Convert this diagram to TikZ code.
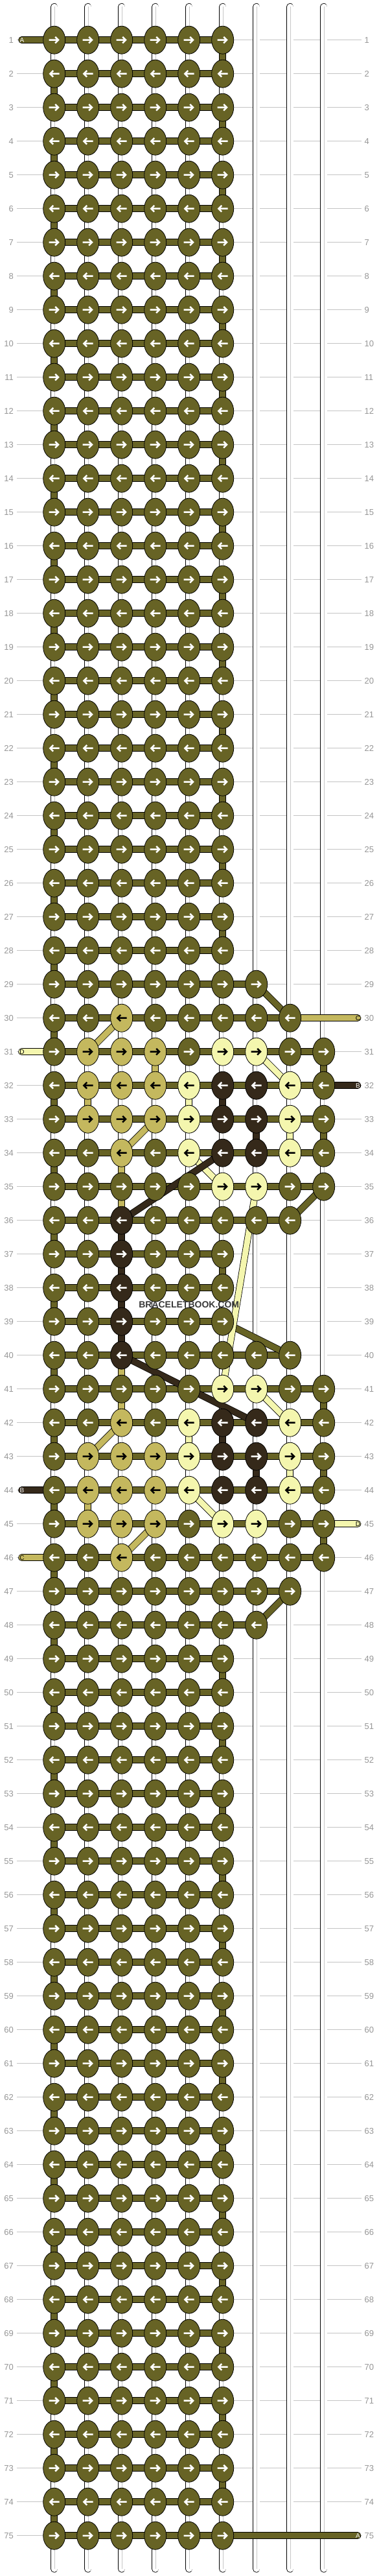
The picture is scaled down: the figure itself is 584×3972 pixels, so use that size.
\documentclass[tikz,border=0pt]{standalone}
\usepackage{fontspec}
\setmainfont{Liberation Sans}
\usetikzlibrary{shapes.geometric}

\definecolor{knotA}{RGB}{103,99,37}
\definecolor{knotB}{RGB}{53,41,26}
\definecolor{knotC}{RGB}{196,184,94}
\definecolor{knotD}{RGB}{244,246,174}
\definecolor{guidegrey}{RGB}{196,196,196}
\definecolor{rownogrey}{RGB}{150,150,150}
\definecolor{lightA}{RGB}{240,238,200}

\pgfdeclarelayer{guides}
\pgfdeclarelayer{base}
\pgfdeclarelayer{bands}
\pgfdeclarelayer{diags}
\pgfsetlayers{guides,base,bands,diags,main}

% colore della freccia per ogni filo
\def\arrA{white}\def\arrB{white}\def\arrC{black}\def\arrD{black}

% numero di nodi in una riga (6 se non indicato)
\newcommand\knotsin[2]{\ifcsname nk#1\endcsname\edef#2{\csname nk#1\endcsname}\else\def#2{6}\fi}
% colore di un nodo (A se non indicato)
\newcommand\knotcolour[3]{\ifcsname kc#1-#2\endcsname\edef#3{\csname kc#1-#2\endcsname}\else\def#3{A}\fi}
% freccia dentro un nodo: #2 = 1 destra, -1 sinistra
\newcommand\knotarrow[3]{%
  \draw[arrowline,draw=#3] ([xshift=-8pt*#2]#1.center) -- ([xshift=5pt*#2]#1.center)
    ([xshift=1.5pt*#2,yshift=4.8pt]#1.center) -- ([xshift=6.3pt*#2]#1.center)
    -- ([xshift=1.5pt*#2,yshift=-4.8pt]#1.center);}

\tikzset{
  knot/.style={ellipse,draw=black,line width=0.8pt,minimum width=34pt,minimum height=43pt,inner sep=0pt},
  kA/.style={knot,fill=knotA},
  kB/.style={knot,fill=knotB},
  kC/.style={knot,fill=knotC},
  kD/.style={knot,fill=knotD},
  knot in/.code={\edef\knotstyle{k#1}\expandafter\pgfkeysalso\expandafter{\knotstyle}},
  band/.style={line width=0.8pt,draw=black,double=#1,double distance=9pt},
  stub/.style={band=#1,line cap=round},
  basethread/.style={line width=0.8pt,draw=black,double=white,double distance=9.6pt,line cap=round},
  threadcore/.style={draw=black!22,line width=0.8pt},
  guideline/.style={draw=guidegrey,line width=1pt},
  rowno/.style={text=rownogrey,font=\fontsize{13}{13}\selectfont,inner sep=0pt,text height=9.3pt,text depth=0pt},
  stubletter/.style={font=\fontsize{10}{10}\selectfont,inner sep=0pt},
  arrowline/.style={line width=2.5pt,line join=miter},
}

\begin{document}
\begin{tikzpicture}[x=1pt,y=-1pt]
    \useasboundingbox (0,0) rectangle (584,3972);

    % Righe con piu di 6 nodi
    \foreach \row/\nn in {29/7,30/8,31/9,32/9,33/9,34/9,35/9,36/8,40/8,41/9,42/9,43/9,44/9,45/9,46/9,47/8,48/7}
        {\expandafter\xdef\csname nk\row\endcsname{\nn}}

    % Colori del disegno (simmetrico attorno alla riga 38)
    \foreach \row/\col/\cl in {30/3/C, 31/2/C,31/3/C,31/4/C,31/6/D,31/7/D,
        32/2/C,32/3/C,32/4/C,32/5/D,32/6/B,32/7/B,32/8/D,
        33/2/C,33/3/C,33/4/C,33/5/D,33/6/B,33/7/B,33/8/D,
        34/3/C,34/5/D,34/6/B,34/7/B,34/8/D, 35/6/D,35/7/D, 36/3/B,37/3/B,38/3/B}{
        \pgfmathtruncatemacro\rr{76-\row}
        \expandafter\xdef\csname kc\row-\col\endcsname{\cl}
        \expandafter\xdef\csname kc\rr-\col\endcsname{\cl}}

    % Fili di base
    \foreach \col in {1,...,9}{
        \coordinate (top-\col) at (31.7+52*\col,10.5);
        \coordinate (bot-\col) at (31.7+52*\col,3961);
        \begin{pgfonlayer}{base}
            \draw[basethread] (top-\col) -- (bot-\col);
            \draw[threadcore] ([xshift=1pt]top-\col) -- ([xshift=1pt]bot-\col);
        \end{pgfonlayer}}

    % Nodi, numeri di riga e fili orizzontali
    \foreach \row in {1,...,75}{
        \knotsin{\row}\nn
        \foreach \col in {1,...,\nn}{
            \knotcolour{\row}{\col}\cl
            \node[knot in=\cl] (k-\row-\col) at (31.7+52*\col,9.7+52*\row) {};
            \edef\ac{\csname arr\cl\endcsname}
            \ifodd\row\relax \knotarrow{k-\row-\col}{1}{\ac}\else \knotarrow{k-\row-\col}{-1}{\ac}\fi}
        \node[rowno,anchor=east] (ln-\row) at (21,9.7+52*\row) {\row};
        \node[rowno,anchor=west] (rn-\row) at (562.4,9.7+52*\row) {\row};
        \begin{pgfonlayer}{guides}
            \draw[guideline] ([xshift=5pt]ln-\row.east) -- ([xshift=-4.9pt]rn-\row.west);
        \end{pgfonlayer}
        \begin{pgfonlayer}{bands}
            \draw[band=knotA] (k-\row-1.center) -- (k-\row-\nn.center);
        \end{pgfonlayer}}

    % Cambi di riga
    \begin{pgfonlayer}{bands}
    \foreach \row in {1,...,74}{
        \pgfmathtruncatemacro\nxt{\row+1}
        \knotsin{\row}\na \knotsin{\nxt}\nb
        \ifodd\row\relax
            \draw[band=knotA] (k-\row-\na.center) -- (k-\nxt-\nb.center);
        \else
            \draw[band=knotA] (k-\row-1.center) -- (k-\nxt-1.center);
        \fi}
    \end{pgfonlayer}

    % Fili colorati portati
    \begin{pgfonlayer}{diags}
    \foreach \ra/\ca/\rb/\cb/\cl in {31/4/32/4/C, 32/2/33/2/C, 32/5/33/5/D, 32/6/33/6/B,
        33/7/34/7/B, 33/8/34/8/D, 34/3/35/3/C, 35/3/36/3/C, 36/3/37/3/B, 37/3/38/3/B,
        38/3/39/3/B, 39/3/40/3/B, 40/3/41/3/C, 41/3/42/3/C, 42/5/43/5/D, 42/6/43/6/B,
        43/7/44/7/B, 43/8/44/8/D, 44/2/45/2/C,
        30/3/31/2/C, 31/7/32/8/D, 33/4/34/3/C, 34/5/35/6/D, 34/6/36/3/B, 35/7/41/6/D,
        40/3/42/7/B, 41/7/42/8/D, 42/3/43/2/C, 44/5/45/6/D, 45/4/46/3/C}
        \draw[band=knot\cl] (k-\ra-\ca.center) -- (k-\rb-\cb.center);
    \end{pgfonlayer}

    % Capi dei fili
    \foreach \row/\col/\side/\cl in {1/1/l/A, 30/8/r/C, 31/1/l/D, 32/9/r/B, 44/1/l/B, 45/9/r/D, 46/1/l/C, 75/6/r/A}{
        \if l\side
            \coordinate (end-\row) at (33.5,9.7+52*\row);
        \else
            \coordinate (end-\row) at (552,9.7+52*\row);
        \fi
        \begin{pgfonlayer}{bands}
            \draw[stub=knot\cl] (k-\row-\col.center) -- (end-\row);
        \end{pgfonlayer}
        \edef\ac{\csname arr\cl\endcsname}
        \node[stubletter,text=\ac] (lab-\row) at ([xshift=0.5pt]end-\row) {\cl};}

    % Marchio
    \node[font=\bfseries\fontsize{14}{14}\selectfont,text=black!78] (mark) at (291.7,2011.7) {BRACELETBOOK.COM};
\end{tikzpicture}
\end{document}
